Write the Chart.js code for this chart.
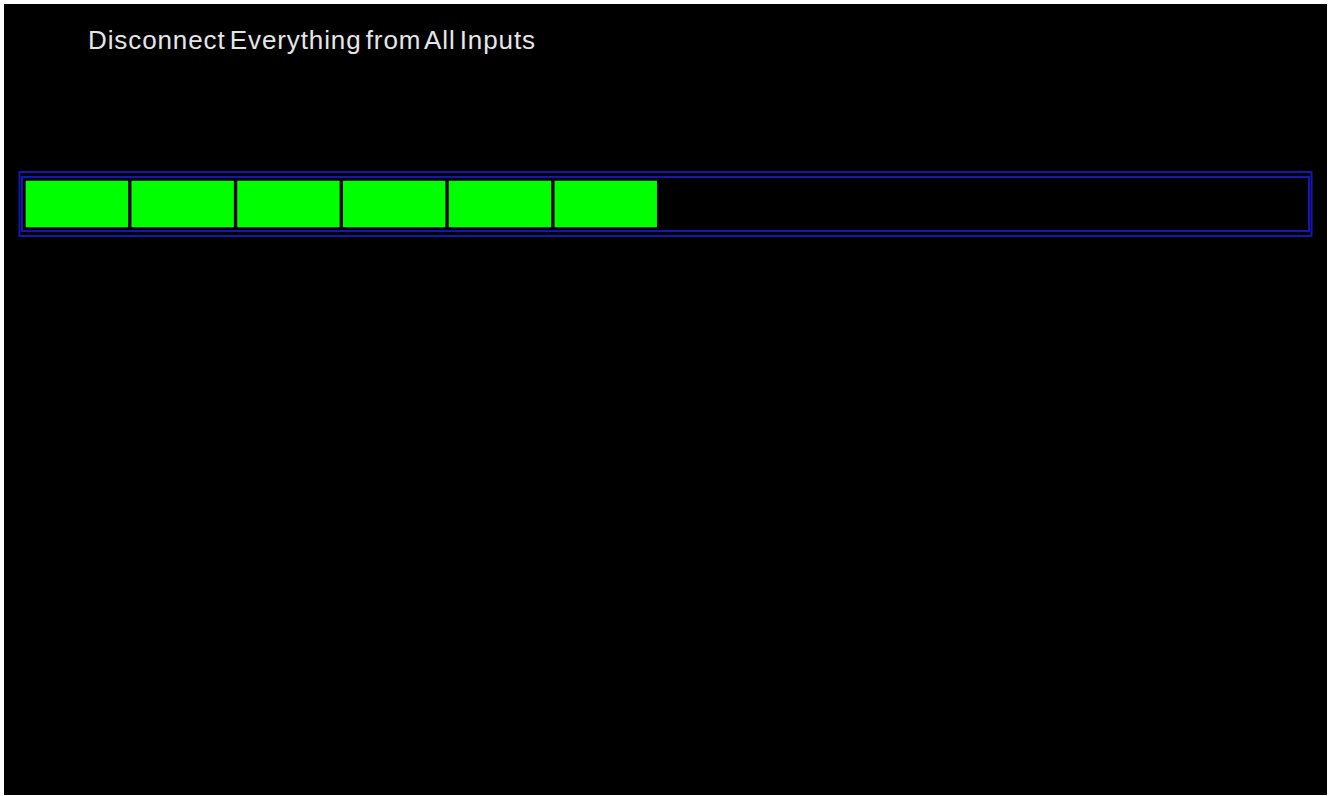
<!DOCTYPE html>
<html>
<head>
<meta charset="utf-8">
<script src="https://cdn.jsdelivr.net/npm/chart.js@4.4.1/dist/chart.umd.min.js"></script>
<style>
  html, body { margin: 0; padding: 0; background: #fff; }
  #wrap { position: absolute; left: 4px; top: 4px; width: 1323px; height: 791px; background: #000; }
  #title {
    position: absolute; left: 84px; top: 21px;
    color: #e6e6e6; font-family: "Liberation Sans", Arial, sans-serif;
    font-size: 26px; letter-spacing: 0.9px; word-spacing: -4px; white-space: nowrap;
  }
  canvas { position: absolute; left: 0; top: 0; }
</style>
</head>
<body>
<div id="wrap">
  <div id="title">Disconnect Everything from All Inputs</div>
  <canvas id="chart" width="1323" height="791"></canvas>
</div>
<script>
// progress bar: one row, filled blocks of 1 unit each on the track
const categories = ['Progress'];
const filledBlocks = [1, 1, 1, 1, 1, 1];
const trackMax = 12.13;

// blue double frame around the track
const framePlugin = {
  id: 'frame',
  beforeDatasetsDraw(chart) {
    const { ctx, chartArea: a } = chart;
    ctx.save();
    ctx.strokeStyle = '#1616b0';
    ctx.lineWidth = 2;
    ctx.strokeRect(a.left - 2, a.top - 2, a.right - a.left + 4, a.bottom - a.top + 4);
    ctx.strokeRect(a.left - 4.5, a.top - 7, a.right - a.left + 9, a.bottom - a.top + 14);
    ctx.restore();
  }
};

const ctx = document.getElementById('chart').getContext('2d');
new Chart(ctx, {
  type: 'bar',
  data: {
    labels: categories,
    datasets: filledBlocks.map((v, i) => ({
      label: 'Block ' + (i + 1),
      data: [v],
      backgroundColor: '#00ff00',
      borderColor: '#000000',
      borderWidth: 2,
      borderSkipped: false,
      barPercentage: 1,
      categoryPercentage: 1,
      stack: 'p',
    }))
  },
  options: {
    indexAxis: 'y',
    responsive: false,
    animation: false,
    layout: {
      padding: { left: 20, right: 20, top: 175, bottom: 566 }
    },
    plugins: {
      legend: { display: false },
      tooltip: { enabled: false },
      title: { display: false }
    },
    scales: {
      x: { stacked: true, min: 0, max: trackMax, display: false },
      y: { stacked: true, display: false }
    }
  },
  plugins: [framePlugin]
});
</script>
</body>
</html>
